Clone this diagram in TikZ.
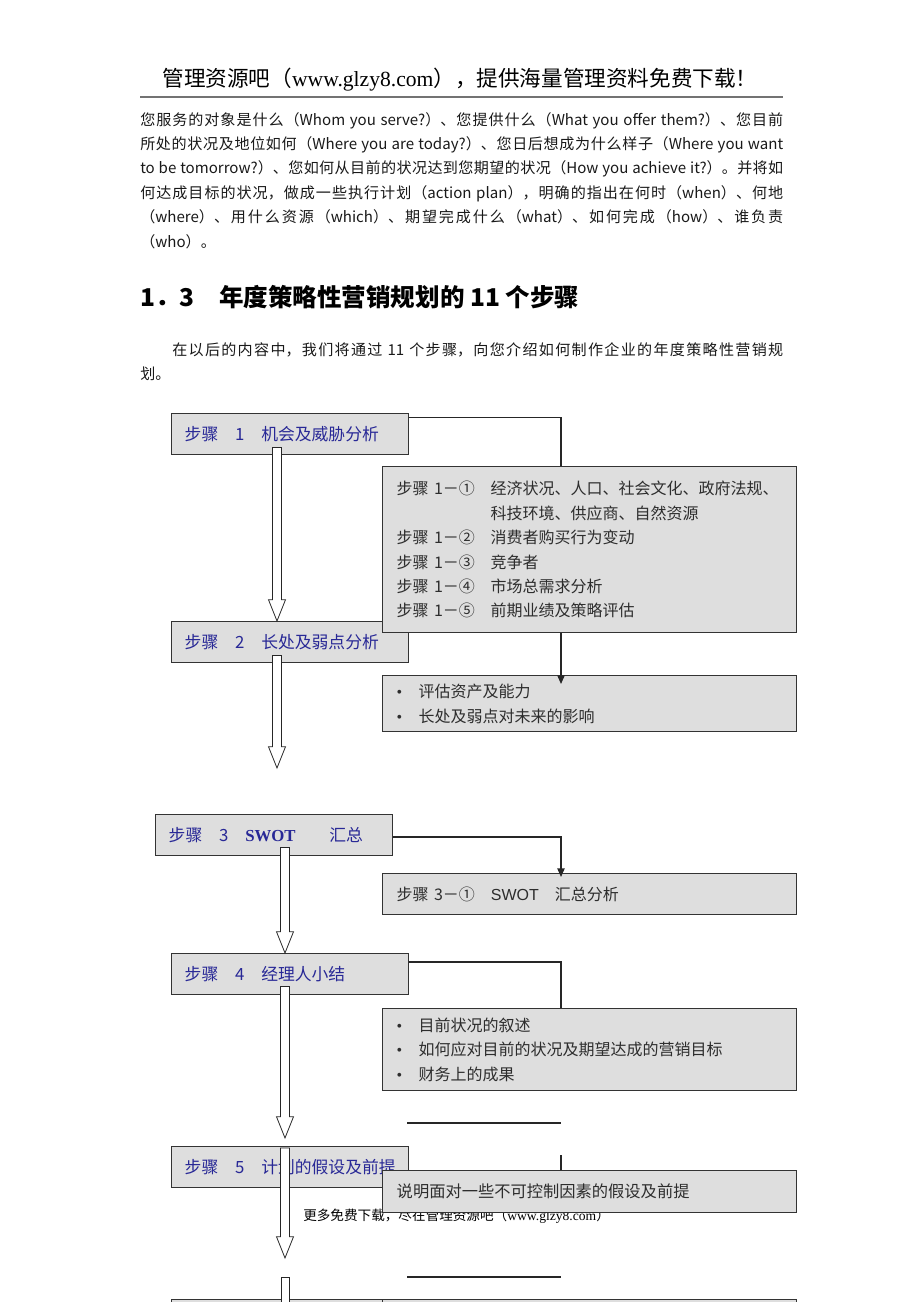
\documentclass[tikz,border=0pt]{standalone}
\usepackage{fontspec}
\setmainfont{Liberation Serif}
\newfontfamily\cjk{Noto Sans CJK SC}
\newfontfamily\arialfont{Liberation Sans}
\usetikzlibrary{calc,arrows.meta}
\XeTeXlinebreaklocale "zh"
\XeTeXlinebreakskip=0pt plus 1pt minus 0.2pt
\definecolor{stepblue}{RGB}{40,40,150}
\definecolor{boxgray}{RGB}{222,222,222}
\definecolor{textgray}{RGB}{45,45,45}
\newcommand\hollowarrow[2]{%
  \draw[hollow] let \p1=#1, \p2=#2 in
    (\x1-3.4pt,\y1) -- (\x1+3.4pt,\y1) -- (\x1+3.4pt,\y2+16pt)
    -- (\x1+6.4pt,\y2+16pt) -- (\x1,\y2) -- (\x1-6.4pt,\y2+16pt)
    -- (\x1-3.4pt,\y2+16pt) -- cycle;}
\newcommand\dotitem{\makebox[16.5pt][l]{{\rmfamily\textbullet}}}
\begin{document}
\begin{tikzpicture}[x=0.75pt, y=-0.75pt,
    stepbox/.style={draw=black!80, line width=1.1pt, fill=boxgray, anchor=north west,
        inner xsep=9.75pt, inner ysep=0pt, minimum width=177.75pt, minimum height=30.75pt,
        text width=158.25pt, align=left, text=stepblue,
        font=\cjk\fontsize{12.6pt}{15pt}\selectfont},
    detailbox/.style={draw=black!80, line width=1.1pt, fill=boxgray, anchor=north west,
        inner xsep=10.5pt, inner ysep=0pt, minimum width=310.5pt,
        text width=289.5pt, align=left, text=textgray,
        font=\cjk\fontsize{12pt}{18.3pt}\selectfont},
    bodytext/.style={anchor=north west, inner sep=0pt, text width=482.25pt, align=justify,
        text=black!90, font=\cjk\fontsize{11.3pt}{18.3pt}\selectfont},
    link/.style={draw=black!85, line width=1pt},
    hollow/.style={draw=black!85, line width=0.6pt, fill=white},
    tip/.style={-{Triangle[width=5.5pt,length=6.5pt]}}
  ]
\useasboundingbox (0,0) rectangle (920,1302);
\clip (0,0) rectangle (920,1302);
\fill[white] (0,0) rectangle (920,1302);

\coordinate (colA) at (277,0);
\coordinate (colB) at (285,0);
\coordinate (midx) at (561,0);

% page text
\node[font=\cjk\fontsize{16.2pt}{18pt}\selectfont] (header) at (460,80)
  {管理资源吧（{\rmfamily www.glzy8.com}），提供海量管理资料免费下载！};
\draw[black!55, line width=1.6pt] (140,97) -- (783,97);

\node[bodytext] (intro) at (140,112) {您服务的对象是什么（Whom you serve?）、您提供什么（What you offer them?）、您目前\linebreak
所处的状况及地位如何（Where you are today?）、您日后想成为什么样子（Where you want\linebreak
to be tomorrow?）、您如何从目前的状况达到您期望的状况（How you achieve it?）。并将如\linebreak
何达成目标的状况，做成一些执行计划（action plan），明确的指出在何时（when）、何地\linebreak
（where）、用什么资源（which）、期望完成什么（what）、如何完成（how）、谁负责\linebreak
（who）。};

\node[anchor=west, inner sep=0pt, font=\cjk\bfseries\fontsize{18.4pt}{20pt}\selectfont] (title) at (140,297)
  {1．3　年度策略性营销规划的 11 个步骤};

\node[bodytext] (lead) at (140,342) {\hspace*{24pt}在以后的内容中，我们将通过 11 个步骤，向您介绍如何制作企业的年度策略性营销规\linebreak
划。};

% steps
\node[stepbox] (s1) at (171,413) {步骤　1　机会及威胁分析};
\node[stepbox] (s2) at (171,621) {步骤　2　长处及弱点分析};
\node[stepbox, minimum width=176.25pt] (s3) at (155,814) {步骤　3　{\rmfamily\bfseries SWOT}　　汇总};
\node[stepbox] (s4) at (171,953) {步骤　4　经理人小结};
\node[stepbox] (s5) at (171,1146) {步骤　5　计划的假设及前提};
\node[stepbox] (s6) at (171,1299) {};

\node[anchor=west, inner sep=0pt, font=\cjk\fontsize{10.2pt}{12pt}\selectfont] (footer) at (303,1216)
  {更多免费下载，尽在管理资源吧（{\rmfamily www.glzy8.com}）};

% details
\node[detailbox, minimum height=124.5pt] (d1) at (382,466) {%
  \makebox[70.5pt][l]{步骤 1－①}经济状况、人口、社会文化、政府法规、\\
  \makebox[70.5pt][l]{}科技环境、供应商、自然资源\\
  \makebox[70.5pt][l]{步骤 1－②}消费者购买行为变动\\
  \makebox[70.5pt][l]{步骤 1－③}竞争者\\
  \makebox[70.5pt][l]{步骤 1－④}市场总需求分析\\
  \makebox[70.5pt][l]{步骤 1－⑤}前期业绩及策略评估};
\node[detailbox, minimum height=42pt] (d2) at (382,675) {%
  \dotitem 评估资产及能力\\
  \dotitem 长处及弱点对未来的影响};
\node[detailbox, minimum height=30.75pt] (d3) at (382,873)
  {步骤 3－①　{\arialfont SWOT}　汇总分析};
\node[detailbox, minimum height=61.5pt] (d4) at (382,1008) {%
  \dotitem 目前状况的叙述\\
  \dotitem 如何应对目前的状况及期望达成的营销目标\\
  \dotitem 财务上的成果};
\node[detailbox, minimum height=31.5pt, font=\cjk\fontsize{12.2pt}{15pt}\selectfont] (d5) at (382,1170)
  {说明面对一些不可控制因素的假设及前提};
\node[detailbox, minimum height=30pt] (d6) at (382,1299) {};

% connectors
\draw[link] ($(s1.north east)+(0,4.5)$) -| (d1.north -| midx);
\draw[link, tip] (d1.south -| midx) -- ($(d2.north -| midx)+(0,9)$);
\draw[link, tip] ($(s3.north east)+(0,23)$) -| ($(d3.north -| midx)+(0,4)$);
\draw[link] ($(s4.north east)+(0,9)$) -| (d4.north -| midx);
\coordinate (loose1) at (407,1123);
\draw[link] (loose1) -- (loose1 -| midx);
\draw[link] ($(d5.north -| midx)+(0,-15)$) -- (d5.north -| midx);
\coordinate (loose2) at (407,1277);
\draw[link] (loose2) -- (loose2 -| midx);

\hollowarrow{($(s1.south -| colA)+(0,-8)$)}{(s2.north -| colA)}
\hollowarrow{($(s2.south -| colA)+(0,-8)$)}{(277,768)}
\hollowarrow{($(s3.south -| colB)+(0,-9)$)}{(s4.north -| colB)}
\hollowarrow{($(s4.south -| colB)+(0,-9)$)}{(285,1138)}
\hollowarrow{($(s5.north -| colB)+(0,2)$)}{(285,1258)}
\draw[hollow] (281,1277) rectangle (289,1330);
\end{tikzpicture}
\end{document}
